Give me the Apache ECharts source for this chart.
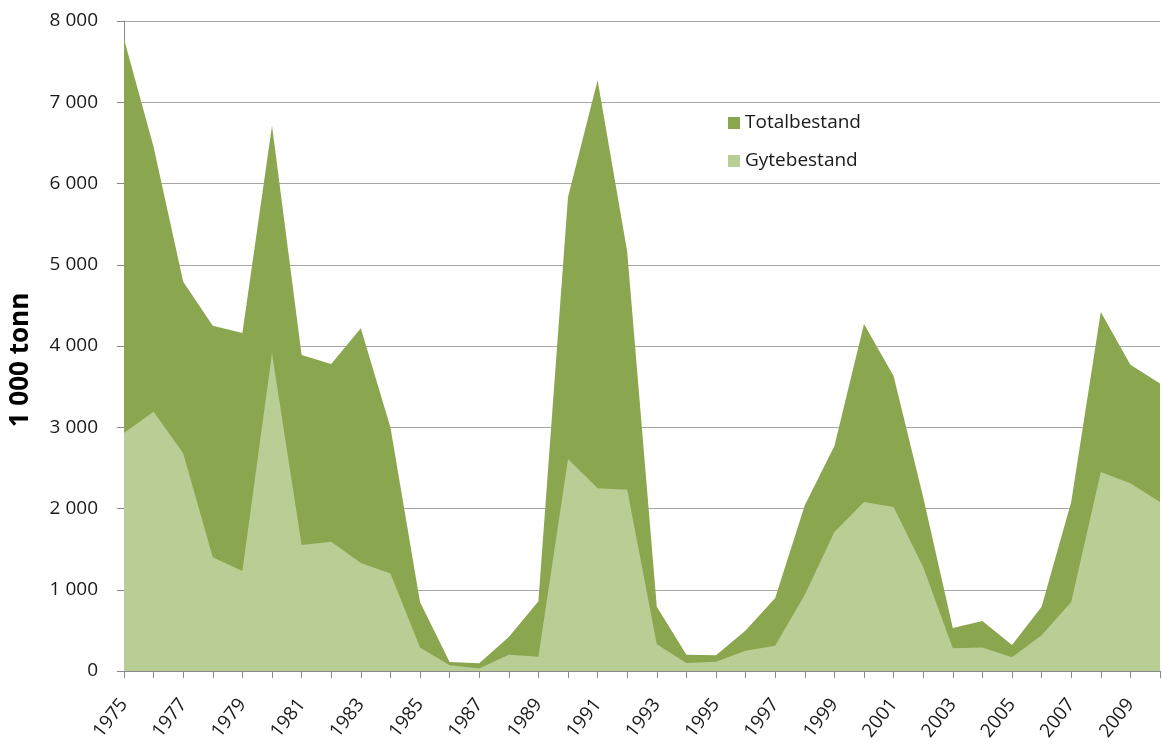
<!DOCTYPE html>
<html>
<head>
<meta charset="utf-8">
<script src="https://cdn.jsdelivr.net/npm/echarts@6/dist/echarts.min.js"></script>
<style>
  html, body { margin: 0; padding: 0; background: #fff; }
  #chart { width: 1162px; height: 745px; }
</style>
</head>
<body>
<div id="chart"></div>
<script>
// years 1975 - 2010
const years = [];
for (let y = 1975; y <= 2010; y++) years.push(String(y));

// Totalbestand (1 000 tonn)
const totalbestand = [
  7780, 6450, 4790, 4250, 4160, 6710, 3890, 3780, 4220, 3000,
  850, 110, 95, 420, 860, 5830, 7270, 5160, 790, 200,
  195, 500, 900, 2040, 2770, 4270, 3630, 2140, 530, 615,
  320, 790, 2080, 4420, 3770, 3540,
];

// Gytebestand (1 000 tonn)
const gytebestand = [
  2930, 3190, 2680, 1400, 1230, 3910, 1550, 1590, 1330, 1200,
  290, 70, 30, 200, 175, 2610, 2250, 2230, 330, 100,
  115, 250, 310, 940, 1710, 2080, 2020, 1280, 280, 290,
  170, 440, 850, 2450, 2310, 2080,
];

const fontFam = "'Open Sans', 'Liberation Sans', sans-serif";

function fmt(v) {
  return String(v).replace(/\B(?=(\d{3})+(?!\d))/g, " ");
}

const myChart = echarts.init(document.getElementById("chart"));
const option = {
  animation: false,
  grid: {
    left: 123,
    right: 2,
    top: 21,
    bottom: 74,
  },
  legend: {
    orient: "vertical",
    left: 723,
    top: 106,
    itemGap: 14,
    itemWidth: 12,
    itemHeight: 12,
    icon: "rect",
    textStyle: {
      fontFamily: fontFam,
      fontSize: 19,
      lineHeight: 24,
      color: "#1a1a1a",
    },
    data: ["Totalbestand", "Gytebestand"],
  },
  xAxis: {
    type: "category",
    data: years,
    boundaryGap: false,
    axisLine: { lineStyle: { color: "#888" } },
    axisTick: {
      show: true,
      interval: 0,
      length: 7,
      lineStyle: { color: "#888" },
    },
    axisLabel: {
      interval: 1,
      rotate: 52,
      margin: 30,
      fontFamily: fontFam,
      fontSize: 19,
      color: "#1a1a1a",
    },
    splitLine: { show: false },
  },
  yAxis: {
    type: "value",
    min: 0,
    max: 8000,
    interval: 1000,
    name: "1 000 tonn",
    nameLocation: "middle",
    nameGap: 90,
    nameTextStyle: {
      fontFamily: fontFam,
      fontSize: 26,
      fontWeight: "bold",
      color: "#000",
      padding: [0, 28, 0, 0],
    },
    axisLine: { show: true, lineStyle: { color: "#888" } },
    axisTick: { show: true, length: 7, lineStyle: { color: "#888" } },
    axisLabel: {
      formatter: fmt,
      fontFamily: fontFam,
      fontSize: 19,
      color: "#1a1a1a",
      margin: 26,
    },
    splitLine: { lineStyle: { color: "#a6a6a6", width: 1 } },
  },
  series: [
    {
      name: "Totalbestand",
      type: "line",
      data: totalbestand,
      symbol: "none",
      lineStyle: { width: 0 },
      itemStyle: { color: "#8aa64f" },
      areaStyle: { color: "#8aa64f", opacity: 1 },
    },
    {
      name: "Gytebestand",
      type: "line",
      data: gytebestand,
      symbol: "none",
      lineStyle: { width: 0 },
      itemStyle: { color: "#b9ce95" },
      areaStyle: { color: "#b9ce95", opacity: 1 },
    },
  ],
};
myChart.setOption(option);
</script>
</body>
</html>
